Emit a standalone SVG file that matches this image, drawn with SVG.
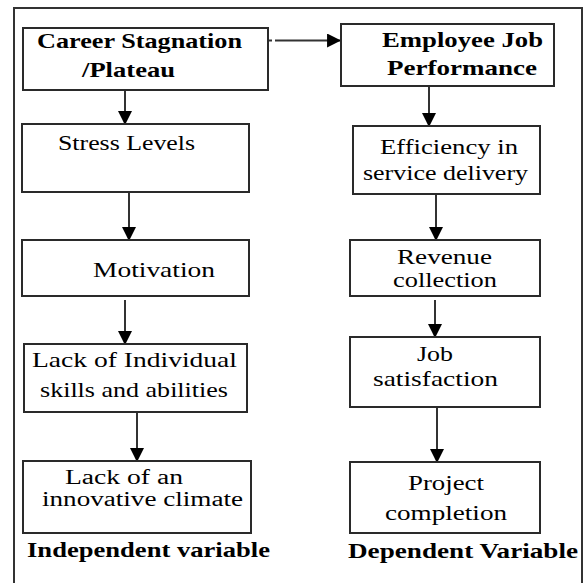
<svg xmlns="http://www.w3.org/2000/svg" width="585" height="583" viewBox="0 0 585 583">
<defs>
<style>
.box{fill:#fff;stroke:#2a2a2a;stroke-width:2}
.t{font-family:"Liberation Serif","Times New Roman",serif;font-size:22px;fill:#000}
.s{font-size:20px}
.b{font-weight:bold}
.c{fill:none;stroke:#333;stroke-width:2}
</style>
<marker id="ah" markerUnits="userSpaceOnUse" markerWidth="14" markerHeight="14" refX="12" refY="6.5" orient="auto" viewBox="0 0 13 13">
<path d="M0,0 L13,6.5 L0,13 Z" fill="#000"/>
</marker>
</defs>
<rect width="585" height="583" fill="#fff"/>
<path d="M14,583 V8 H582 V583" fill="none" stroke="#333" stroke-width="2"/>
<g id="connectors">
<line class="c" x1="269" y1="40.5" x2="272" y2="40.5"/>
<line class="c" x1="275" y1="40.5" x2="340" y2="40.5" marker-end="url(#ah)"/>
<line class="c" x1="125" y1="90" x2="125" y2="124" marker-end="url(#ah)"/>
<line class="c" x1="129" y1="192" x2="129" y2="240" marker-end="url(#ah)"/>
<line class="c" x1="125" y1="300" x2="125" y2="344" marker-end="url(#ah)"/>
<line class="c" x1="137" y1="412" x2="137" y2="461" marker-end="url(#ah)"/>
<line class="c" x1="429" y1="86" x2="429" y2="126" marker-end="url(#ah)"/>
<line class="c" x1="436" y1="194" x2="436" y2="240" marker-end="url(#ah)"/>
<line class="c" x1="435" y1="300" x2="435" y2="337" marker-end="url(#ah)"/>
<line class="c" x1="437" y1="407" x2="437" y2="462" marker-end="url(#ah)"/>
</g>
<g id="career">
<rect class="box" x="23" y="28" width="245" height="62"/>
<text class="t b" x="37" y="48" textLength="205" lengthAdjust="spacingAndGlyphs">Career Stagnation</text>
<text class="t b" x="82" y="77" textLength="93" lengthAdjust="spacingAndGlyphs">/Plateau</text>
</g>
<g id="stress">
<rect class="box" x="22" y="124" width="227" height="68"/>
<text class="t" x="58" y="150" textLength="137" lengthAdjust="spacingAndGlyphs">Stress Levels</text>
</g>
<g id="motivation">
<rect class="box" x="22" y="240" width="227" height="56"/>
<text class="t" x="93" y="277" textLength="122" lengthAdjust="spacingAndGlyphs">Motivation</text>
</g>
<g id="skills">
<rect class="box" x="24" y="344" width="223" height="68"/>
<text class="t" x="32" y="367" textLength="205" lengthAdjust="spacingAndGlyphs">Lack of Individual</text>
<text class="t" x="40" y="397" textLength="188" lengthAdjust="spacingAndGlyphs">skills and abilities</text>
</g>
<g id="climate">
<rect class="box" x="23" y="461" width="228" height="72"/>
<text class="t s" x="65" y="484" textLength="118" lengthAdjust="spacingAndGlyphs">Lack of an</text>
<text class="t s" x="42" y="506" textLength="201" lengthAdjust="spacingAndGlyphs">innovative climate</text>
</g>
<g id="independent-label">
<text class="t b" x="27" y="557" textLength="243" lengthAdjust="spacingAndGlyphs">Independent variable</text>
</g>
<g id="performance">
<rect class="box" x="341" y="24" width="213" height="62"/>
<text class="t b" x="382" y="47" textLength="161" lengthAdjust="spacingAndGlyphs">Employee Job</text>
<text class="t b" x="387" y="75" textLength="150" lengthAdjust="spacingAndGlyphs">Performance</text>
</g>
<g id="efficiency">
<rect class="box" x="353" y="126" width="187" height="68"/>
<text class="t" x="380" y="154" textLength="138" lengthAdjust="spacingAndGlyphs">Efficiency in</text>
<text class="t" x="363" y="180" textLength="165" lengthAdjust="spacingAndGlyphs">service delivery</text>
</g>
<g id="revenue">
<rect class="box" x="350" y="240" width="190" height="56"/>
<text class="t s" x="397" y="264" textLength="95" lengthAdjust="spacingAndGlyphs">Revenue</text>
<text class="t s" x="393" y="287" textLength="104" lengthAdjust="spacingAndGlyphs">collection</text>
</g>
<g id="satisfaction">
<rect class="box" x="350" y="337" width="190" height="70"/>
<text class="t" x="417" y="361" textLength="36" lengthAdjust="spacingAndGlyphs">Job</text>
<text class="t" x="373" y="386" textLength="125" lengthAdjust="spacingAndGlyphs">satisfaction</text>
</g>
<g id="project">
<rect class="box" x="350" y="462" width="190" height="71"/>
<text class="t" x="408" y="490" textLength="76" lengthAdjust="spacingAndGlyphs">Project</text>
<text class="t" x="385" y="520" textLength="122" lengthAdjust="spacingAndGlyphs">completion</text>
</g>
<g id="dependent-label">
<text class="t b" x="348" y="558" textLength="230" lengthAdjust="spacingAndGlyphs">Dependent Variable</text>
</g>
</svg>
